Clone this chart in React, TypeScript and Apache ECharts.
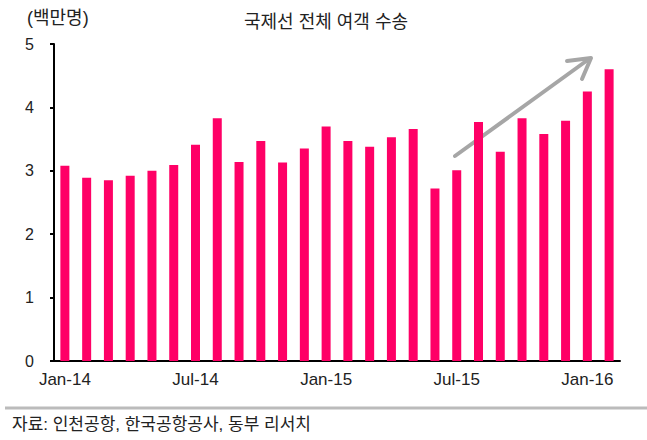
import React, { useEffect, useRef } from "react";
import * as echarts from "echarts";

const categories = [
  "Jan-14", "Feb-14", "Mar-14", "Apr-14", "May-14", "Jun-14",
  "Jul-14", "Aug-14", "Sep-14", "Oct-14", "Nov-14", "Dec-14",
  "Jan-15", "Feb-15", "Mar-15", "Apr-15", "May-15", "Jun-15",
  "Jul-15", "Aug-15", "Sep-15", "Oct-15", "Nov-15", "Dec-15",
  "Jan-16", "Feb-16",
];
const passengers = [
  3.08, 2.89, 2.85, 2.92, 3.0, 3.09,
  3.41, 3.83, 3.14, 3.47, 3.13, 3.35,
  3.7, 3.47, 3.38, 3.53, 3.66, 2.72,
  3.01, 3.77, 3.3, 3.83, 3.58, 3.79,
  4.25, 4.6,
];
const yTicks = { min: 0, max: 5, interval: 1 };
const title = "국제선 전체 여객 수송";
const unitLabel = "(백만명)";
const source = "자료: 인천공항, 한국공항공사, 동부 리서치";

const FONT = "'Liberation Sans', 'Noto Sans CJK KR', sans-serif";
const TEXT = "#222222";

export default function App() {
  const ref = useRef<HTMLDivElement>(null);
  useEffect(() => {
    document.body.style.margin = "0";
    const chart = echarts.init(ref.current!, null, { renderer: "svg" });
    chart.setOption({
      animation: false,
      backgroundColor: "#ffffff",
      textStyle: { fontFamily: FONT },
      grid: { left: 54, right: 27, top: 44, bottom: 79, containLabel: false },
      xAxis: {
        type: "category",
        data: categories,
        boundaryGap: true,
        axisLine: { lineStyle: { color: "#000", width: 2 } },
        axisTick: { interval: 5, length: 5, lineStyle: { color: "#000", width: 2 } },
        axisLabel: { interval: 5, fontSize: 17, color: TEXT, margin: 10, fontFamily: FONT },
        splitLine: { show: false },
      },
      yAxis: {
        type: "value",
        min: yTicks.min,
        max: yTicks.max,
        interval: yTicks.interval,
        axisLine: { show: true, lineStyle: { color: "#000", width: 2 } },
        axisTick: { show: true, length: 4, lineStyle: { color: "#000", width: 2 } },
        axisLabel: { fontSize: 16, color: TEXT, margin: 20, fontFamily: FONT },
        splitLine: { show: false },
      },
      series: [
        {
          type: "bar",
          data: passengers,
          barWidth: 9,
          itemStyle: { color: "#ff0066" },
        },
      ],
      graphic: [
        {
          type: "text",
          x: 326,
          y: 22,
          style: {
            text: title, fontSize: 18, fill: TEXT, fontFamily: FONT,
            align: "center", verticalAlign: "middle",
          },
        },
        {
          type: "text",
          x: 27,
          y: 18,
          style: {
            text: unitLabel, fontSize: 18, fill: TEXT, fontFamily: FONT,
            align: "left", verticalAlign: "middle",
          },
        },
        {
          type: "line",
          shape: { x1: 455, y1: 156, x2: 589, y2: 59 },
          style: { stroke: "#a6a6a6", lineWidth: 4, lineCap: "round" },
        },
        {
          type: "polyline",
          shape: { points: [[567, 61], [591, 58], [582, 79]] },
          style: { stroke: "#a6a6a6", lineWidth: 4, lineCap: "round", lineJoin: "round", fill: null },
        },
        {
          type: "line",
          shape: { x1: 5, y1: 408, x2: 647, y2: 408 },
          style: { stroke: "#bbbbbb", lineWidth: 3 },
        },
        {
          type: "text",
          x: 12,
          y: 424,
          style: {
            text: source, fontSize: 17, fill: TEXT, fontFamily: FONT,
            align: "left", verticalAlign: "middle",
          },
        },
      ],
    });
    return () => chart.dispose();
  }, []);
  return <div ref={ref} style={{ width: 647, height: 440 }} />;
}
